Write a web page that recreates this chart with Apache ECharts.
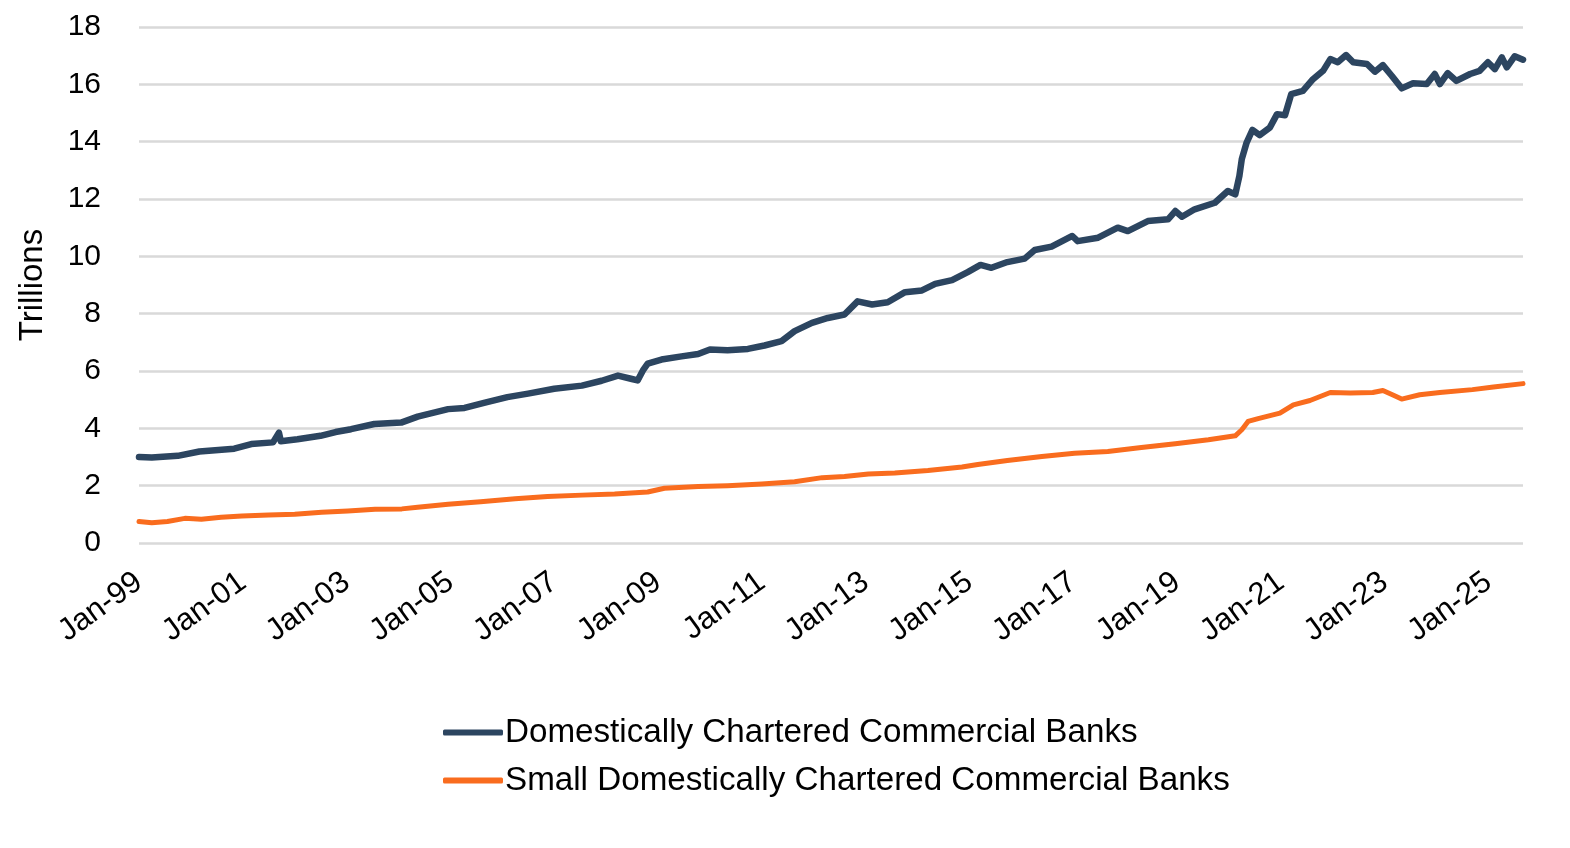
<!DOCTYPE html>
<html>
<head>
<meta charset="utf-8">
<script src="https://cdn.jsdelivr.net/npm/echarts@6/dist/echarts.min.js"></script>
<style>
  html, body { margin: 0; padding: 0; background: #ffffff; }
  #chart { width: 1570px; height: 848px; }
</style>
</head>
<body>
<div id="chart"></div>
<script>
// ---- Data (trillions of dollars) ----
const seriesNames = [
  'Domestically Chartered Commercial Banks',
  'Small Domestically Chartered Commercial Banks'
];

const domesticDates = [
  '1999-01-01','1999-04-01','1999-10-01','2000-03-01','2000-11-01','2001-03-01','2001-08-01','2001-09-12','2001-09-25',
  '2002-01-20','2002-07-01','2002-10-15','2003-02-01','2003-07-15','2004-01-20','2004-05-15','2004-12-15',
  '2005-04-10','2005-09-01','2006-02-05','2006-07-01','2007-01-01','2007-07-15','2007-12-01','2008-03-25',
  '2008-07-01','2008-08-10','2008-09-20','2008-10-20','2009-01-25','2009-06-15','2009-10-10','2010-01-01',
  '2010-05-05','2010-09-25','2011-01-20','2011-05-20','2011-08-20','2011-12-20','2012-04-10','2012-08-05',
  '2012-11-05','2013-02-15','2013-06-05','2013-10-05','2014-02-01','2014-05-05','2014-09-01','2014-12-20',
  '2015-03-20','2015-06-05','2015-09-25','2016-01-25','2016-04-05','2016-08-01','2016-12-25','2017-02-01',
  '2017-06-25','2017-11-10','2018-01-20','2018-06-10','2018-10-30','2018-12-20','2019-02-05','2019-05-05',
  '2019-09-25','2019-12-25','2020-02-15','2020-03-15','2020-04-01','2020-05-05','2020-06-15','2020-08-05',
  '2020-10-15','2020-12-05','2021-01-30','2021-03-15','2021-06-05','2021-08-15','2021-10-25','2021-12-15',
  '2022-02-05','2022-04-05','2022-05-25','2022-08-30','2022-10-25','2022-12-20','2023-02-20','2023-05-01',
  '2023-07-20','2023-10-25','2023-12-20','2024-01-25','2024-03-20','2024-05-20','2024-08-25','2024-10-30',
  '2024-12-28','2025-02-15','2025-04-05','2025-05-10','2025-07-05','2025-09-01'
];
const domesticValues = [
  3.00, 2.98, 3.04, 3.19, 3.29, 3.45, 3.51, 3.85, 3.55,
  3.62, 3.74, 3.87, 3.97, 4.15, 4.20, 4.41, 4.67,
  4.71, 4.90, 5.09, 5.21, 5.38, 5.49, 5.66, 5.84,
  5.72, 5.67, 6.05, 6.26, 6.40, 6.51, 6.59, 6.75,
  6.72, 6.77, 6.89, 7.04, 7.39, 7.68, 7.85, 7.97,
  8.43, 8.32, 8.40, 8.75, 8.81, 9.04, 9.17, 9.45,
  9.70, 9.60, 9.80, 9.92, 10.22, 10.34, 10.71, 10.53,
  10.65, 11.00, 10.88, 11.23, 11.29, 11.58, 11.38, 11.64,
  11.87, 12.28, 12.16, 12.80, 13.39, 13.97, 14.41, 14.23,
  14.49, 14.96, 14.92, 15.66, 15.77, 16.18, 16.47, 16.88,
  16.77, 17.02, 16.77, 16.71, 16.44, 16.67, 16.30, 15.86,
  16.04, 16.01, 16.36, 16.01, 16.39, 16.12, 16.36, 16.47,
  16.77, 16.53, 16.94, 16.59, 16.98, 16.86
];

const smallDates = [
  '1999-01-01','1999-04-01','1999-07-20','1999-11-20','2000-03-15','2000-08-01','2000-12-25','2001-07-01',
  '2002-01-01','2002-07-10','2003-01-10','2003-07-20','2004-01-25','2004-05-15','2004-12-15','2005-08-01',
  '2006-04-01','2006-11-15','2007-07-15','2008-03-01','2008-10-20','2009-02-15','2009-10-10','2010-05-05',
  '2011-01-01','2011-08-20','2012-03-01','2012-08-05','2013-01-20','2013-07-25','2014-03-15','2014-11-10',
  '2015-03-01','2015-09-25','2016-05-25','2017-01-10','2017-09-01','2018-04-25','2018-12-20','2019-08-10',
  '2020-02-15','2020-04-01','2020-05-15','2020-07-25','2020-12-25','2021-03-30','2021-07-25','2021-12-15',
  '2022-05-05','2022-10-10','2022-12-20','2023-02-25','2023-05-01','2023-09-05','2024-01-25','2024-09-10',
  '2025-02-05','2025-09-01'
];
const smallValues = [
  0.75, 0.71, 0.75, 0.86, 0.83, 0.90, 0.94, 0.98,
  1.00, 1.07, 1.12, 1.18, 1.19, 1.25, 1.35, 1.44,
  1.54, 1.62, 1.67, 1.71, 1.78, 1.91, 1.97, 2.00,
  2.06, 2.14, 2.28, 2.32, 2.41, 2.44, 2.53, 2.65,
  2.74, 2.88, 3.02, 3.13, 3.19, 3.33, 3.46, 3.60,
  3.74, 3.95, 4.24, 4.34, 4.53, 4.82, 4.97, 5.25,
  5.23, 5.25, 5.32, 5.17, 5.02, 5.17, 5.25, 5.35,
  5.44, 5.56
];

const yTicks = [0, 2, 4, 6, 8, 10, 12, 14, 16, 18];
const startYear = 1999;

// ---- Build chart ----
const t0 = Date.UTC(startYear, 0, 1);
const yearSpan = 365.25 * 24 * 3600 * 1000;
function toOffset(s) {
  const p = s.split('-').map(Number);
  return (Date.UTC(p[0], p[1] - 1, p[2]) - t0) / yearSpan;
}
function pairs(dates, vals) { return dates.map((d, i) => [toOffset(d), vals[i]]); }

const domesticData = pairs(domesticDates, domesticValues);
const smallData = pairs(smallDates, smallValues);
const xMax = Math.max(domesticData[domesticData.length - 1][0], smallData[smallData.length - 1][0]);

const FONT = '"Liberation Sans", Arial, sans-serif';
const chart = echarts.init(document.getElementById('chart'), null, { renderer: 'canvas' });

chart.setOption({
  animation: false,
  backgroundColor: '#ffffff',
  textStyle: { fontFamily: FONT, color: '#000' },
  grid: { left: 139, right: 47, top: 27, bottom: 305, containLabel: false },
  legend: {
    orient: 'vertical',
    left: 438,
    top: 711,
    itemWidth: 60,
    itemHeight: 6,
    itemGap: 15,
    icon: 'roundRect',
    textStyle: { fontFamily: FONT, fontSize: 33.2, color: '#000', lineHeight: 33, padding: [0, 0, 0, -3] },
    data: seriesNames
  },
  xAxis: {
    type: 'value',
    min: 0,
    max: xMax,
    interval: 2,
    axisLine: { show: false },
    axisTick: { show: false },
    splitLine: { show: false },
    axisLabel: {
      rotate: 36,
      margin: 36,
      fontFamily: FONT,
      fontSize: 31,
      color: '#000',
      showMaxLabel: true,
      formatter: function (v) {
        const r = Math.round(v);
        if (Math.abs(v - r) > 1e-6 || r % 2 !== 0) return '';
        const yr = (startYear + r) % 100;
        return 'Jan-' + (yr < 10 ? '0' + yr : String(yr));
      }
    }
  },
  yAxis: {
    type: 'value',
    min: yTicks[0],
    max: yTicks[yTicks.length - 1],
    interval: 2,
    name: 'Trillions',
    nameLocation: 'middle',
    nameGap: 90,
    nameRotate: 90,
    nameTextStyle: { fontFamily: FONT, fontSize: 33, color: '#000' },
    axisLine: { show: false },
    axisTick: { show: false },
    axisLabel: { margin: 38, fontFamily: FONT, fontSize: 30, color: '#000' },
    splitLine: { show: true, lineStyle: { color: '#d9d9d9', width: 2.5 } }
  },
  series: [
    {
      name: seriesNames[0],
      type: 'line',
      data: domesticData,
      showSymbol: false,
      symbol: 'none',
      lineStyle: { color: '#2c4560', width: 6.5, join: 'round', cap: 'round' },
      itemStyle: { color: '#2c4560' },
      z: 3
    },
    {
      name: seriesNames[1],
      type: 'line',
      data: smallData,
      showSymbol: false,
      symbol: 'none',
      lineStyle: { color: '#f96c1e', width: 5, join: 'round', cap: 'round' },
      itemStyle: { color: '#f96c1e' },
      z: 2
    }
  ]
});
</script>
</body>
</html>
